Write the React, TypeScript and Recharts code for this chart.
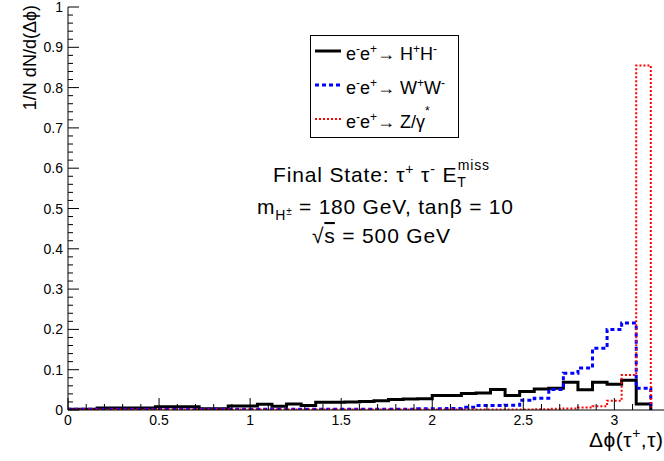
import React from 'react';
import { ComposedChart, Line, XAxis, YAxis, Legend, Customized } from 'recharts';

// Histogram binning: 40 bins of width 0.08 on [0, 3.2]
const binLowEdges = [
  0, 0.08, 0.16, 0.24, 0.32, 0.4, 0.48, 0.56, 0.64, 0.72,
  0.8, 0.88, 0.96, 1.04, 1.12, 1.2, 1.28, 1.36, 1.44, 1.52,
  1.6, 1.68, 1.76, 1.84, 1.92, 2.0, 2.08, 2.16, 2.24, 2.32,
  2.4, 2.48, 2.56, 2.64, 2.72, 2.8, 2.88, 2.96, 3.04, 3.12,
];
const histUpperEdge = 3.2;
// The frame runs a little past the last bin
const axisMax = 3.3;

// Normalised distributions 1/N dN/d(Δϕ) per bin
const chargedHiggs = [
  0.002, 0.002, 0.005, 0.005, 0.005, 0.005, 0.008, 0.008, 0.008, 0.003,
  0.003, 0.010, 0.010, 0.014, 0.009, 0.015, 0.011, 0.019, 0.019, 0.020,
  0.021, 0.023, 0.026, 0.027, 0.028, 0.036, 0.036, 0.041, 0.042, 0.051,
  0.036, 0.046, 0.052, 0.054, 0.069, 0.050, 0.069, 0.064, 0.074, 0.015,
];
const wPairs = [
  0.002, 0.002, 0.002, 0.002, 0.002, 0.002, 0.002, 0.002, 0.002, 0.002,
  0.002, 0.002, 0.002, 0.002, 0.002, 0.002, 0.002, 0.002, 0.002, 0.002,
  0.002, 0.002, 0.002, 0.002, 0.003, 0.003, 0.004, 0.007, 0.011, 0.011,
  0.012, 0.024, 0.029, 0.051, 0.091, 0.104, 0.153, 0.200, 0.216, 0.054,
];
const zGamma = [
  0.001, 0.001, 0.001, 0.001, 0.001, 0.001, 0.001, 0.001, 0.001, 0.001,
  0.001, 0.001, 0.001, 0.001, 0.001, 0.001, 0.001, 0.001, 0.001, 0.001,
  0.001, 0.001, 0.001, 0.001, 0.001, 0.001, 0.001, 0.001, 0.001, 0.001,
  0.001, 0.001, 0.002, 0.003, 0.004, 0.006, 0.009, 0.023, 0.087, 0.855,
];

// Axis ticks and labels
const xMajorTicks = [0, 0.5, 1, 1.5, 2, 2.5, 3];
const xTickLabels = ['0', '0.5', '1', '1.5', '2', '2.5', '3'];
const xMinorPerMajor = 5;
const yMajorTicks = [0, 0.1, 0.2, 0.3, 0.4, 0.5, 0.6, 0.7, 0.8, 0.9, 1];
const yTickLabels = ['0', '0.1', '0.2', '0.3', '0.4', '0.5', '0.6', '0.7', '0.8', '0.9', '1'];
const yMinorPerMajor = 5;

const FONT = '"Liberation Sans", Arial, Helvetica, sans-serif';

// Subdivide major tick intervals into minor ticks
function withMinors(majors: number[], per: number, upTo: number) {
  const step = (majors[1] - majors[0]) / per;
  const out: number[] = [];
  for (let k = 0; majors[0] + k * step <= upTo + 1e-9; k++) {
    out.push(Math.round((majors[0] + k * step) * 1000) / 1000);
  }
  return out;
}
const xAllTicks = withMinors(xMajorTicks, xMinorPerMajor, histUpperEdge);
const yAllTicks = withMinors(yMajorTicks, yMinorPerMajor, 1);

// Step-outline table: start at zero, one point per bin, close back to zero
const histTable = (() => {
  const rows: { x: number; hh: number; ww: number; zg: number }[] = [];
  rows.push({ x: binLowEdges[0], hh: 0, ww: 0, zg: 0 });
  binLowEdges.forEach((edge, i) => {
    rows.push({ x: edge, hh: chargedHiggs[i], ww: wPairs[i], zg: zGamma[i] });
  });
  const last = binLowEdges.length - 1;
  rows.push({ x: histUpperEdge, hh: chargedHiggs[last], ww: wPairs[last], zg: zGamma[last] });
  rows.push({ x: histUpperEdge, hh: 0, ww: 0, zg: 0 });
  return rows;
})();

type Piece = { t: string; shift?: number; size?: number; dx?: number; over?: boolean };

// Text runs with super/subscripts as tspans
function renderPieces(list: Piece[]) {
  let cur = 0;
  return list.map((p, i) => {
    const s = p.shift ?? 0;
    const dy = s - cur;
    cur = s;
    return (
      <tspan key={i} dy={dy} dx={p.dx} fontSize={p.size} style={p.over ? { textDecoration: 'overline' } : undefined}>
        {p.t}
      </tspan>
    );
  });
}

const SUP = 12;
const legendLabels: Record<string, Piece[]> = {
  hh: [
    { t: 'e' }, { t: '-', shift: -7, size: SUP }, { t: 'e', shift: 0 }, { t: '+', shift: -7, size: SUP },
    { t: '\u2192 H', shift: 0 }, { t: '+', shift: -7, size: SUP }, { t: 'H', shift: 0 }, { t: '-', shift: -7, size: SUP },
  ],
  ww: [
    { t: 'e' }, { t: '-', shift: -7, size: SUP }, { t: 'e', shift: 0 }, { t: '+', shift: -7, size: SUP },
    { t: '\u2192 W', shift: 0 }, { t: '+', shift: -7, size: SUP }, { t: 'W', shift: 0 }, { t: '-', shift: -7, size: SUP },
  ],
  zg: [
    { t: 'e' }, { t: '-', shift: -7, size: SUP }, { t: 'e', shift: 0 }, { t: '+', shift: -7, size: SUP },
    { t: '\u2192 Z/\u03b3', shift: 0 }, { t: '*', shift: -13, size: SUP },
  ],
};

const XTick = (props: any) => {
  const { x, y, payload } = props;
  const idx = xMajorTicks.findIndex((m) => Math.abs(m - payload.value) < 1e-6);
  const major = idx >= 0;
  return (
    <g>
      <line x1={x} x2={x} y1={y} y2={y - (major ? 12 : 6)} stroke="#000" strokeWidth={1} />
      {major && (
        <text x={x} y={y + 15} textAnchor="middle" fontSize={14} fontFamily={FONT} fill="#000">
          {xTickLabels[idx]}
        </text>
      )}
    </g>
  );
};

const YTick = (props: any) => {
  const { x, y, payload } = props;
  const idx = yMajorTicks.findIndex((m) => Math.abs(m - payload.value) < 1e-6);
  const major = idx >= 0;
  return (
    <g>
      <line x1={x} x2={x + (major ? 11 : 5)} y1={y} y2={y} stroke="#000" strokeWidth={1} />
      {major && (
        <text x={x - 5} y={y + 5} textAnchor="end" fontSize={14} fontFamily={FONT} fill="#000">
          {yTickLabels[idx]}
        </text>
      )}
    </g>
  );
};

const LegendBox = (props: any) => {
  const payload: any[] = props.payload || [];
  return (
    <svg width={150} height={104} style={{ display: 'block', overflow: 'visible' }}>
      <rect x={0.5} y={0.5} width={148} height={102} fill="#fff" stroke="#000" strokeWidth={1} />
      {payload.map((entry, i) => {
        const ly = 16 + 34 * i;
        const src = entry.payload || {};
        return (
          <g key={String(entry.dataKey)}>
            <line x1={5} x2={31} y1={ly} y2={ly} stroke={entry.color} strokeWidth={src.strokeWidth} strokeDasharray={src.strokeDasharray} />
            <text x={36} y={ly + 9} fontSize={18} fontFamily={FONT} fill="#000">
              {renderPieces(legendLabels[String(entry.dataKey)] || [])}
            </text>
          </g>
        );
      })}
    </svg>
  );
};

const Annotations = () => (
  <g fontFamily={FONT} fill="#000">
    <text x={381} y={182} fontSize={21} textAnchor="middle" textLength={216} lengthAdjust="spacing">
      {renderPieces([
        { t: 'Final State: \u03c4' },
        { t: '+', shift: -8, size: 14 },
        { t: ' \u03c4', shift: 0 },
        { t: '-', shift: -8, size: 14 },
        { t: ' E', shift: 0 },
        { t: 'T', shift: 5, size: 14 },
        { t: 'miss', shift: -12, size: 14, dx: -9 },
      ])}
    </text>
    <text x={385} y={214} fontSize={21} textAnchor="middle" textLength={256} lengthAdjust="spacing">
      {renderPieces([
        { t: 'm' },
        { t: 'H', shift: 6, size: 14 },
        { t: '\u00b1', shift: 1, size: 10 },
        { t: ' = 180 GeV, tan\u03b2 = 10', shift: 0 },
      ])}
    </text>
    <text x={381} y={243} fontSize={21} textAnchor="middle" textLength={138} lengthAdjust="spacing">
      {renderPieces([{ t: '\u221a' }, { t: 's', over: true }, { t: ' = 500 GeV' }])}
    </text>
    <text x={663} y={447} fontSize={21} textAnchor="end" textLength={74} lengthAdjust="spacing">
      {renderPieces([
        { t: '\u0394\u03d5(\u03c4' },
        { t: '+', shift: -9, size: 14 },
        { t: ',\u03c4)', shift: 0 },
      ])}
    </text>
    <text transform="translate(36, 5) rotate(-90)" x={0} y={0} fontSize={18} textAnchor="end">
      {'1/N dN/d(\u0394\u03d5)'}
    </text>
  </g>
);

export default function App() {
  return (
    <div style={{ position: 'absolute', left: 0, top: 0, width: 664, height: 461, overflow: 'hidden', background: '#fff' }}>
      <ComposedChart width={669} height={461} data={histTable} margin={{ top: 7, right: 0, left: 0, bottom: 0 }}>
        <XAxis
          dataKey="x"
          type="number"
          domain={[0, axisMax]}
          ticks={xAllTicks}
          interval={0}
          tickSize={0}
          tickMargin={0}
          tickLine={false}
          tick={<XTick />}
          axisLine={{ stroke: '#000', strokeWidth: 1 }}
          height={51}
          allowDataOverflow
        />
        <YAxis
          type="number"
          domain={[0, 1]}
          ticks={yAllTicks}
          interval={0}
          tickSize={0}
          tickMargin={0}
          tickLine={false}
          tick={<YTick />}
          axisLine={{ stroke: '#000', strokeWidth: 1 }}
          width={68}
          allowDataOverflow
        />
        <Line dataKey="hh" name="hh" type="stepAfter" stroke="#000000" strokeWidth={3} dot={false} activeDot={false} isAnimationActive={false} />
        <Line dataKey="ww" name="ww" type="stepAfter" stroke="#0000ff" strokeWidth={3} strokeDasharray="4 3" dot={false} activeDot={false} isAnimationActive={false} />
        <Line dataKey="zg" name="zg" type="stepAfter" stroke="#ff0000" strokeWidth={2} strokeDasharray="2 2" dot={false} activeDot={false} isAnimationActive={false} />
        <Legend
          layout="vertical"
          align="center"
          verticalAlign="middle"
          content={<LegendBox />}
          wrapperStyle={{ position: 'absolute', left: 310, top: 35, width: 150, height: 104 }}
        />
        <Customized component={Annotations} />
      </ComposedChart>
    </div>
  );
}
